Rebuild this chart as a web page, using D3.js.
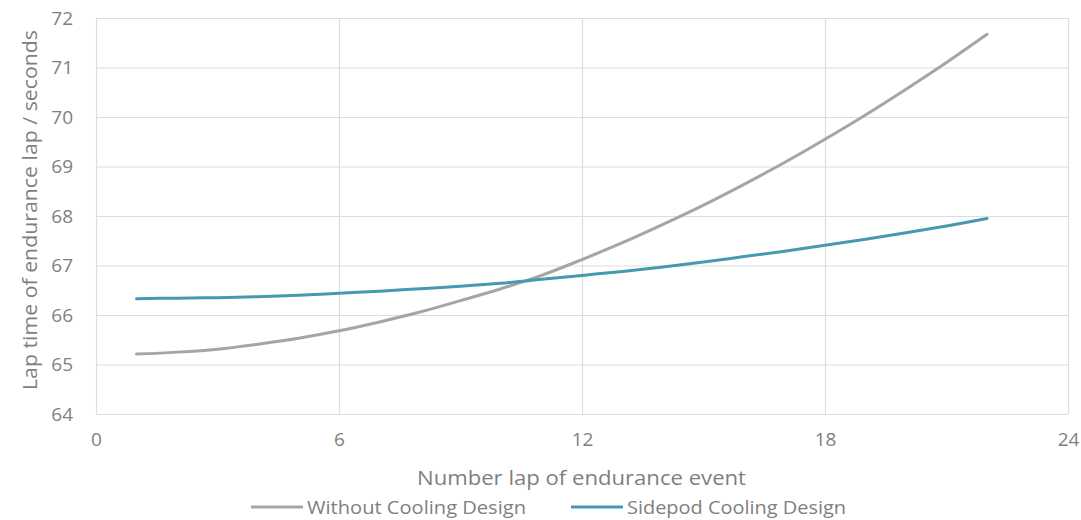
<!DOCTYPE html>
<html>
<head>
<meta charset="utf-8">
<script src="https://cdn.jsdelivr.net/npm/d3@7"></script>
<style>
  html, body { margin: 0; padding: 0; background: #fff; }
  svg { display: block; font-family: "Open Sans", "Noto Sans", sans-serif; }
</style>
</head>
<body>
<svg id="chart" width="1081" height="520"></svg>
<script>
const laps = [1,2,3,4,5,6,7,8,9,10,11,12,13,14,15,16,17,18,19,20,21,22];
const withoutCooling = [65.21,65.25,65.31,65.41,65.53,65.68,65.86,66.06,66.29,66.53,66.80,67.12,67.46,67.83,68.22,68.64,69.08,69.55,70.04,70.56,71.10,71.67];
const sidepodCooling = [66.33,66.34,66.35,66.37,66.40,66.44,66.48,66.53,66.58,66.64,66.72,66.80,66.88,66.97,67.07,67.18,67.29,67.41,67.53,67.66,67.80,67.95];
const seriesNames = ["Without Cooling Design", "Sidepod Cooling Design"];
const seriesColors = ["#A5A5A5", "#4699B1"];
const xTicks = [0, 6, 12, 18, 24];
const yTicks = [64, 65, 66, 67, 68, 69, 70, 71, 72];
const xTitle = "Number lap of endurance event";
const yTitle = "Lap time of endurance lap / seconds";

const svg = d3.select("#chart");
const m = { left: 96, right: 1068, top: 18, bottom: 414 };
const x = d3.scaleLinear().domain([0, 24]).range([m.left, m.right]);
const y = d3.scaleLinear().domain([64, 72]).range([m.bottom, m.top]);

const grid = svg.append("g");
grid.selectAll("line.h").data(yTicks).join("line")
  .attr("x1", m.left).attr("x2", m.right)
  .attr("y1", d => y(d) + 0.5).attr("y2", d => y(d) + 0.5)
  .attr("stroke", "#DDDDDD").attr("stroke-width", 1.2);
grid.selectAll("line.v").data(xTicks).join("line")
  .attr("y1", m.top).attr("y2", m.bottom)
  .attr("x1", d => x(d) + 0.5).attr("x2", d => x(d) + 0.5)
  .attr("stroke", "#DDDDDD").attr("stroke-width", 1.2);

// Axes (labels only)
const yAxis = svg.append("g").attr("transform", `translate(${m.left},0)`)
  .call(d3.axisLeft(y).tickValues(yTicks).tickSize(0).tickPadding(23));
const xAxis = svg.append("g").attr("transform", `translate(0,${m.bottom})`)
  .call(d3.axisBottom(x).tickValues(xTicks).tickSize(0).tickPadding(19));
[yAxis, xAxis].forEach(a => {
  a.select(".domain").remove();
  a.selectAll("text").attr("fill", "#7F7F7F").style("font-size", "19px")
    .style("font-family", "'Open Sans', sans-serif");
});

// Lines
const line = d3.line().x((d, i) => x(laps[i])).y(d => y(d)).curve(d3.curveCatmullRom);
[withoutCooling, sidepodCooling].forEach((s, i) => {
  svg.append("path").datum(s).attr("d", line)
    .attr("fill", "none").attr("stroke", seriesColors[i])
    .attr("stroke-width", 3).attr("stroke-linecap", "round");
});

// Axis titles
svg.append("text").attr("x", 417).attr("y", 485)
  .attr("textLength", 329).attr("lengthAdjust", "spacingAndGlyphs")
  .attr("fill", "#7F7F7F").style("font-size", "20px")
  .text(xTitle);
svg.append("text").attr("transform", `translate(37,390) rotate(-90)`)
  .attr("textLength", 360).attr("lengthAdjust", "spacingAndGlyphs")
  .attr("fill", "#7F7F7F").style("font-size", "20px")
  .text(yTitle);

// Legend
const lg = svg.append("g");
const legendPos = [{ lx: 251, tx: 307 }, { lx: 571, tx: 627 }];
seriesNames.forEach((name, i) => {
  lg.append("line").attr("x1", legendPos[i].lx).attr("x2", legendPos[i].lx + 52)
    .attr("y1", 507).attr("y2", 507)
    .attr("stroke", seriesColors[i]).attr("stroke-width", 3);
  lg.append("text").attr("x", legendPos[i].tx).attr("y", 514)
    .attr("textLength", 219).attr("lengthAdjust", "spacingAndGlyphs")
    .attr("fill", "#7F7F7F").style("font-size", "18px").text(name);
});
</script>
</body>
</html>
